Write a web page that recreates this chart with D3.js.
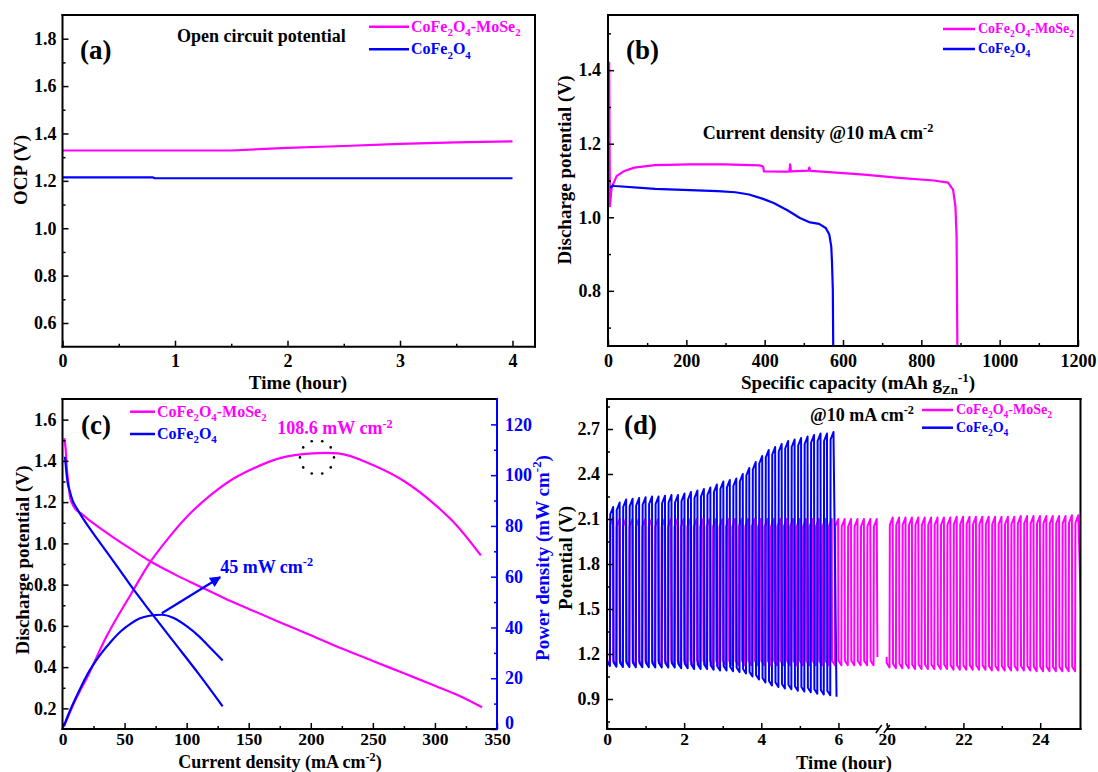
<!DOCTYPE html>
<html>
<head>
<meta charset="utf-8">
<style>
body { margin: 0; background: #fff; }
svg text { font-family: "Liberation Serif", "Times New Roman", serif; font-weight: bold; }
</style>
</head>
<body>
<svg id="fig" width="1098" height="772"></svg>
<script src="https://cdn.jsdelivr.net/npm/d3@7"></script>
<script>
// ---------- data ----------
// (a) open circuit potential vs time (hour)
var ocpTimeM = [0, 0.5, 1, 1.5, 2, 2.5, 3, 3.5, 4];
var ocpM = [1.328, 1.328, 1.328, 1.328, 1.339, 1.347, 1.356, 1.362, 1.367];
var ocpTimeC = [0, 0.8, 0.82, 4];
var ocpC = [1.215, 1.215, 1.211, 1.211];
var aXMajor = [0, 1, 2, 3, 4], aXMinor = [0.5, 1.5, 2.5, 3.5];
var aYMajor = [0.6, 0.8, 1.0, 1.2, 1.4, 1.6, 1.8], aYMinor = [0.7, 0.9, 1.1, 1.3, 1.5, 1.7];

// (b) discharge at 10 mA cm-2, capacity (mAh g-1) vs potential (V)
var capM = [3, 4, 5, 9, 22, 40, 67, 120, 209, 298, 387, 396, 398, 458, 463, 465, 467, 512, 514, 516, 518, 565, 654, 743, 832, 868, 881, 887, 890, 892];
var disM = [1.423, 1.2, 1.03, 1.08, 1.112, 1.125, 1.135, 1.142, 1.144, 1.144, 1.141, 1.138, 1.125, 1.124, 1.125, 1.144, 1.125, 1.127, 1.135, 1.127, 1.126, 1.123, 1.116, 1.107, 1.10, 1.094, 1.075, 1.03, 0.948, 0.65];
var capC = [6, 12, 18, 120, 209, 280, 325, 360, 396, 423, 458, 490, 516, 539, 556, 565, 570, 572, 574, 575];
var disC = [1.08, 1.086, 1.085, 1.077, 1.074, 1.071, 1.068, 1.062, 1.05, 1.039, 1.019, 0.998, 0.986, 0.982, 0.971, 0.953, 0.921, 0.875, 0.803, 0.65];
var bXMajor = [0, 200, 400, 600, 800, 1000, 1200], bXMinor = [100, 300, 500, 700, 900, 1100];
var bYMajor = [0.8, 1.0, 1.2, 1.4], bYMinor = [0.7, 0.9, 1.1, 1.3, 1.5];

// (c) polarization (V) and power density (mW cm-2) vs current density (mA cm-2)
var jVM = [1.4, 2.5, 3.4, 5, 6.2, 10, 15, 20, 30, 40, 55, 71, 90, 111, 130, 154, 175, 200, 225, 250, 275, 300, 320, 338];
var vM = [1.51, 1.46, 1.37, 1.28, 1.22, 1.17, 1.145, 1.12, 1.075, 1.033, 0.973, 0.912, 0.851, 0.79, 0.735, 0.672, 0.618, 0.555, 0.49, 0.43, 0.37, 0.31, 0.26, 0.205];
var jPM = [1.4, 10, 21, 35, 55, 71, 85, 101, 119, 135, 151, 176, 201, 212, 222, 250, 275, 300, 317, 337];
var pM = [1.3, 11, 21.5, 36, 53, 66, 75, 84, 92, 97.8, 102, 106.8, 108.6, 108.8, 108.6, 104, 97.7, 88.4, 80.5, 68.4];
var jVC = [2, 4, 6, 8, 12, 17, 30, 45, 55, 70, 90, 110, 129];
var vC = [1.42, 1.30, 1.25, 1.21, 1.165, 1.116, 1.005, 0.88, 0.795, 0.675, 0.52, 0.365, 0.21];
var jPC = [1, 5, 10, 20, 30, 40, 47, 55, 62, 70, 80, 90, 100, 110, 120, 129];
var pC = [1, 6, 11.5, 21.5, 29, 35, 38.5, 41.5, 43.5, 44.6, 45, 43.6, 40.5, 36.5, 31.5, 27];
var peakM = [205, 107], peakC = [80, 45.6], arrowTip = [127, 59.8];
var cXMajor = [0, 50, 100, 150, 200, 250, 300, 350], cXMinor = [25, 75, 125, 175, 225, 275, 325];
var cYMajor = [0.2, 0.4, 0.6, 0.8, 1.0, 1.2, 1.4, 1.6], cYMinor = [0.3, 0.5, 0.7, 0.9, 1.1, 1.3, 1.5];
var cPMajor = [0, 20, 40, 60, 80, 100, 120], cPMinor = [10, 30, 50, 70, 90, 110];

// (d) galvanostatic cycling, one value per cycle (charge top / discharge bottom, V)
var cycleHours = 0.168, cycleHoursM = 0.1667;
var blueCharge = [2.18, 2.21, 2.23, 2.235, 2.24, 2.245, 2.25, 2.25, 2.255, 2.26, 2.26, 2.27, 2.28, 2.29, 2.30, 2.31, 2.33, 2.35, 2.36, 2.37, 2.40, 2.44, 2.48, 2.52, 2.56, 2.58, 2.60, 2.62, 2.63, 2.64, 2.65, 2.66, 2.67, 2.67, 2.68];
var blueDischarge = [1.12, 1.115, 1.113, 1.113, 1.112, 1.112, 1.112, 1.11, 1.11, 1.11, 1.11, 1.105, 1.105, 1.10, 1.10, 1.10, 1.095, 1.09, 1.09, 1.085, 1.08, 1.07, 1.05, 1.03, 1.01, 0.99, 0.98, 0.97, 0.965, 0.955, 0.95, 0.945, 0.935, 0.93, 0.925];
var blueStart = [0, 2.23], blueEnd = [5.95, 0.915];
var magLeftCharge = [2.11, 2.10, 2.10, 2.10, 2.10, 2.10, 2.10, 2.10, 2.10, 2.10, 2.10, 2.10, 2.10, 2.10, 2.10, 2.10, 2.10, 2.10, 2.10, 2.10, 2.10, 2.10, 2.10, 2.10, 2.10, 2.10, 2.10, 2.10, 2.10, 2.10, 2.10, 2.10, 2.10, 2.10, 2.10, 2.10, 2.10, 2.10, 2.10, 2.10, 2.10, 2.10];
var magLeftDischarge = [1.13, 1.125, 1.125, 1.125, 1.125, 1.125, 1.125, 1.125, 1.125, 1.125, 1.125, 1.125, 1.125, 1.125, 1.125, 1.125, 1.125, 1.125, 1.125, 1.125, 1.125, 1.125, 1.125, 1.125, 1.125, 1.125, 1.125, 1.125, 1.125, 1.125, 1.125, 1.125, 1.125, 1.125, 1.125, 1.125, 1.125, 1.125, 1.125, 1.125, 1.125, 1.125];
var magLeftStart = [0, 2.12], magLeftEnd = [7.01, 1.18];
var magRightCharge = [2.11, 2.11, 2.11, 2.11, 2.11, 2.11, 2.11, 2.11, 2.11, 2.11, 2.115, 2.115, 2.115, 2.115, 2.115, 2.115, 2.115, 2.115, 2.115, 2.115, 2.12, 2.12, 2.12, 2.12, 2.12, 2.12, 2.12, 2.12, 2.125, 2.125];
var magRightDischarge = [1.11, 1.105, 1.105, 1.105, 1.10, 1.10, 1.10, 1.10, 1.10, 1.10, 1.095, 1.095, 1.095, 1.095, 1.095, 1.095, 1.09, 1.09, 1.09, 1.09, 1.09, 1.09, 1.09, 1.085, 1.085, 1.085, 1.085, 1.085, 1.085, 1.085];
var magRightStart = [20.0, 1.18], magRightEnd = [25.1, 1.15];
var dXMajor = [0, 2, 4, 6, 20, 22, 24], dXMinor = [1, 3, 5, 21, 23];
var dYMajor = [0.9, 1.2, 1.5, 1.8, 2.1, 2.4, 2.7], dYMinor = [0.75, 1.05, 1.35, 1.65, 1.95, 2.25, 2.55, 2.85];

// ---------- helpers ----------
var svg = d3.select("#fig");
var MAG = "#ff00ff", BLUE = "#0000ff";
var FS = 18;
var legendName = [["CoFe"], ["2", "sub"], ["O"], ["4", "sub"], ["-MoSe"], ["2", "sub"]];
var legendName2 = [["CoFe"], ["2", "sub"], ["O"], ["4", "sub"]];

// text with sub/superscripts, parts = [[text, "sub"|"sup"|undefined], ...]
function rich(text, parts, size) {
    var shift = 0;
    parts.forEach(function (p) {
        var off = p[1] === "sub" ? 0.28 * size : p[1] === "sup" ? -0.38 * size : 0;
        var t = text.append("tspan").text(p[0]).attr("dy", off - shift);
        if (p[1]) t.attr("font-size", size * 0.68);
        shift = off;
    });
    return text;
}

function label(x, y, parts, size, color, anchor, rotate) {
    var t = svg.append("text")
        .attr("font-size", size)
        .attr("fill", color || "#000")
        .attr("text-anchor", anchor || "start");
    if (rotate) t.attr("transform", "translate(" + (x + 0.35 * size) + "," + y + ") rotate(-90)");
    else t.attr("x", x).attr("y", y);
    return rich(t, parts, size);
}

function drawAxis(orient, scale, transform, major, minor, fmt, pad, color, size) {
    color = color || "#000";
    var m = svg.append("g").attr("transform", transform)
        .call(orient(scale).tickValues(major).tickSize(-6).tickPadding(pad).tickFormat(fmt));
    var n = svg.append("g").attr("transform", transform)
        .call(orient(scale).tickValues(minor).tickSize(-3).tickFormat(""));
    [m, n].forEach(function (s) {
        s.select(".domain").remove();
        s.selectAll("line").attr("stroke", color).attr("stroke-width", 1.5);
        s.selectAll("text").attr("fill", color).attr("font-size", size || FS);
    });
    return m;
}

function frame(p, rightColor) {
    var g = svg.append("g").attr("stroke-width", 2).attr("stroke-linecap", "square");
    g.append("line").attr("x1", p.x0).attr("x2", p.x1).attr("y1", p.y0).attr("y2", p.y0).attr("stroke", "#000");
    g.append("line").attr("x1", p.x0).attr("x2", p.x0).attr("y1", p.y0).attr("y2", p.y1).attr("stroke", "#000");
    g.append("line").attr("x1", p.x0).attr("x2", p.x1).attr("y1", p.y1).attr("y2", p.y1).attr("stroke", "#000");
    g.append("line").attr("x1", p.x1).attr("x2", p.x1).attr("y1", p.y0).attr("y2", p.y1).attr("stroke", rightColor || "#000");
    return g;
}

function clip(id, p) {
    svg.append("clipPath").attr("id", id).append("rect")
        .attr("x", p.x0).attr("y", p.y0).attr("width", p.x1 - p.x0).attr("height", p.y1 - p.y0);
}

function curve(xs, ys, x, y, color, width, clipId, smooth) {
    var line = d3.line().x(function (d) { return x(d[0]); }).y(function (d) { return y(d[1]); });
    if (smooth) line.curve(d3.curveMonotoneX);
    var path = svg.append("path").datum(d3.zip(xs, ys))
        .attr("d", line).attr("fill", "none")
        .attr("stroke", color).attr("stroke-width", width || 2.2)
        .attr("stroke-linejoin", "round");
    if (clipId) path.attr("clip-path", "url(#" + clipId + ")");
    return path;
}

function legend(x0, x1, yTop, yBot, tx, size) {
    svg.append("line").attr("x1", x0).attr("x2", x1).attr("y1", yTop).attr("y2", yTop).attr("stroke", MAG).attr("stroke-width", 2.5);
    svg.append("line").attr("x1", x0).attr("x2", x1).attr("y1", yBot).attr("y2", yBot).attr("stroke", BLUE).attr("stroke-width", 2.5);
    label(tx, yTop + 0.3 * size, legendName, size, MAG);
    label(tx, yBot + 0.3 * size, legendName2, size, BLUE);
}

var f1 = d3.format(".1f"), f0 = d3.format("d");

// ---------- (a) ----------
var pa = { x0: 62.5, x1: 535, y0: 15, y1: 346.7 };
var xa = d3.scaleLinear().domain([0, 4.2]).range([pa.x0, pa.x1]);
var ya = d3.scaleLinear().domain([0.5, 1.9]).range([pa.y1, pa.y0]);
curve(ocpTimeM, ocpM, xa, ya, MAG);
curve(ocpTimeC, ocpC, xa, ya, BLUE);
drawAxis(d3.axisBottom, xa, "translate(0," + pa.y1 + ")", aXMajor, aXMinor, f0, 8);
drawAxis(d3.axisLeft, ya, "translate(" + pa.x0 + ",0)", aYMajor, aYMinor, f1, 6);
frame(pa);
label(80, 59, [["(a)"]], 27);
label(177, 42, [["Open circuit potential"]], 18);
legend(369, 409, 26.7, 49.3, 411, 16);
label(20, 170, [["OCP (V)"]], 19, "#000", "middle", true);
label(298, 389, [["Time (hour)"]], 19, "#000", "middle");

// ---------- (b) ----------
var pb = { x0: 608, x1: 1078, y0: 15, y1: 346 };
var xb = d3.scaleLinear().domain([0, 1200]).range([pb.x0, pb.x1]);
var yb = d3.scaleLinear().domain([0.65, 1.55]).range([pb.y1, pb.y0]);
clip("clipB", pb);
curve(capM, disM, xb, yb, MAG, 2.2, "clipB");
curve(capC, disC, xb, yb, BLUE, 2.2, "clipB");
drawAxis(d3.axisBottom, xb, "translate(0," + pb.y1 + ")", bXMajor, bXMinor, f0, 8);
drawAxis(d3.axisLeft, yb, "translate(" + pb.x0 + ",0)", bYMajor, bYMinor, f1, 7);
frame(pb);
label(626, 59, [["(b)"]], 27);
label(818, 139, [["Current density @10 mA cm"], ["-2", "sup"]], 18, "#000", "middle");
legend(943, 975, 29, 49, 978, 14);
label(564, 170, [["Discharge potential (V)"]], 19, "#000", "middle", true);
label(858, 389, [["Specific capacity (mAh g"], ["Zn", "sub"], ["-1", "sup"], [")"]], 19, "#000", "middle");

// ---------- (c) ----------
var pc = { x0: 62.5, x1: 497, y0: 399, y1: 729 };
var xc = d3.scaleLinear().domain([0, 350]).range([pc.x0, pc.x1]);
var yc = d3.scaleLinear().domain([0.1, 1.7]).range([pc.y1, pc.y0]);
var yp = d3.scaleLinear().domain([0, 130]).range([pc.y1, pc.y0]);
clip("clipC", pc);
curve(jPM, pM, xc, yp, MAG, 2.2, "clipC", true);
curve(jVM, vM, xc, yc, MAG, 2.2, "clipC", true);
curve(jVC, vC, xc, yc, BLUE, 2.2, "clipC", true);
curve(jPC, pC, xc, yp, BLUE, 2.2, "clipC", true);
drawAxis(d3.axisBottom, xc, "translate(0," + pc.y1 + ")", cXMajor, cXMinor, f0, 4, "#000", 17.5);
drawAxis(d3.axisLeft, yc, "translate(" + pc.x0 + ",0)", cYMajor, cYMinor, f1, 6);
drawAxis(d3.axisRight, yp, "translate(" + pc.x1 + ",0)", cPMajor, cPMinor, f0, 8, BLUE)
    .selectAll("text").attr("dy", function (d) { return d === 0 ? "-0.05em" : "0.32em"; });
frame(pc, BLUE);

// arrow to the CoFe2O4 power maximum
svg.append("defs").append("marker").attr("id", "head")
    .attr("viewBox", "0 0 10 10").attr("refX", 9).attr("refY", 5)
    .attr("markerUnits", "userSpaceOnUse").attr("markerWidth", 14).attr("markerHeight", 11)
    .attr("orient", "auto")
    .append("path").attr("d", "M0,0 L10,5 L0,10 Z").attr("fill", BLUE);
svg.append("line")
    .attr("x1", xc(peakC[0])).attr("y1", yp(peakC[1]))
    .attr("x2", xc(arrowTip[0])).attr("y2", yp(arrowTip[1]))
    .attr("stroke", BLUE).attr("stroke-width", 2.2).attr("marker-end", "url(#head)");

// dotted ring round the CoFe2O4-MoSe2 power maximum
var ringR = 17;
svg.append("g").selectAll("circle").data(d3.range(10)).join("circle")
    .attr("cx", function (i) { return xc(peakM[0]) + ringR * Math.cos(i / 10 * 2 * Math.PI); })
    .attr("cy", function (i) { return yp(peakM[1]) + ringR * Math.sin(i / 10 * 2 * Math.PI); })
    .attr("r", 1.3).attr("fill", "#000");

label(xc(peakM[0]) + 18, yp(peakM[1]) - 23, [["108.6 mW cm"], ["-2", "sup"]], 18, MAG, "middle");
label(xc(arrowTip[0]), yp(arrowTip[1]) - 4, [["45 mW cm"], ["-2", "sup"]], 18, BLUE);
label(81, 434, [["(c)"]], 27);
legend(130, 155, 411.7, 434, 157, 16);
label(22, 560, [["Discharge potential (V)"]], 19, "#000", "middle", true);
label(542, 558, [["Power density (mW cm"], ["-2", "sup"], [")"]], 19, BLUE, "middle", true);
label(280, 768, [["Current density (mA cm"], ["-2", "sup"], [")"]], 18, "#000", "middle");

// ---------- (d) ----------
var pd = { x0: 607, x1: 1080.5, y0: 399, y1: 729 };
var xBreak = 882.8;
var xd = d3.scaleLinear().domain([0, 7.15, 19.9, 25.05]).range([pd.x0, xBreak, xBreak, pd.x1]);
var yd = d3.scaleLinear().domain([0.7, 2.9]).range([pd.y1, pd.y0]);
clip("clipD", pd);

// one cycle = discharge half then charge half
function cyclePoints(start, period, dis, chg, end) {
    var pts = [start];
    dis.forEach(function (d, k) {
        var t = start[0] + k * period;
        pts.push([t, d + 0.03], [t + 0.45 * period, d], [t + 0.5 * period, chg[k] - 0.05], [t + 0.95 * period, chg[k]]);
    });
    pts.push(end);
    return pts;
}
function cycleCurve(pts, color) {
    curve(pts.map(function (d) { return d[0]; }), pts.map(function (d) { return d[1]; }), xd, yd, color, 2, "clipD");
}
cycleCurve(cyclePoints(magLeftStart, cycleHoursM, magLeftDischarge, magLeftCharge, magLeftEnd), MAG);
cycleCurve(cyclePoints(magRightStart, cycleHoursM, magRightDischarge, magRightCharge, magRightEnd), MAG);
cycleCurve(cyclePoints(blueStart, cycleHours, blueDischarge, blueCharge, blueEnd), BLUE);

drawAxis(d3.axisBottom, xd, "translate(0," + pd.y1 + ")", dXMajor, dXMinor, f0, 4, "#000", 17.5);
drawAxis(d3.axisLeft, yd, "translate(" + pd.x0 + ",0)", dYMajor, dYMinor, f1, 7);
frame(pd);
// axis break marks
svg.append("rect").attr("x", xBreak - 4).attr("y", pd.y1 - 3).attr("width", 8).attr("height", 6).attr("fill", "#fff");
[-4, 4].forEach(function (o) {
    svg.append("line")
        .attr("x1", xBreak + o - 3).attr("y1", pd.y1 + 4)
        .attr("x2", xBreak + o + 3).attr("y2", pd.y1 - 4)
        .attr("stroke", "#000").attr("stroke-width", 1.5);
});
label(624, 434, [["(d)"]], 27);
label(810, 421, [["@10 mA cm"], ["-2", "sup"]], 18);
legend(922, 953, 410, 427.7, 956, 14);
label(565, 558, [["Potential (V)"]], 19, "#000", "middle", true);
label(844, 768.5, [["Time (hour)"]], 18.5, "#000", "middle");
</script>
</body>
</html>
